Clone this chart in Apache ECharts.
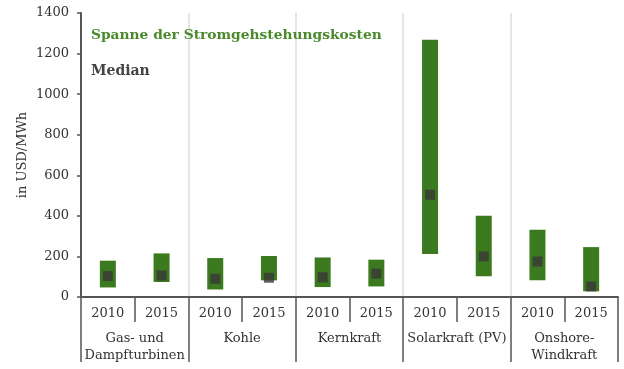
<!DOCTYPE html>
<html>
<head>
<meta charset="utf-8">
<script src="https://cdn.jsdelivr.net/npm/echarts@6/dist/echarts.min.js"></script>
<style>
  html, body { margin: 0; padding: 0; background: #fff; }
  #chart { width: 624px; height: 369px; }
</style>
</head>
<body>
<div id="chart"></div>
<script>
// Stromgestehungskosten (USD/MWh): Spanne und Median je Technologie und Jahr
const groups = ['Gas- und\nDampfturbinen', 'Kohle', 'Kernkraft', 'Solarkraft (PV)', 'Onshore-\nWindkraft'];
const years = ['2010', '2015', '2010', '2015', '2010', '2015', '2010', '2015', '2010', '2015'];
const rangeLow  = [47, 74, 37, 82, 49, 52, 212, 102, 82, 28];
const rangeHigh = [179, 215, 192, 202, 195, 184, 1268, 401, 332, 246];
const median    = [103, 106, 90, 95, 97, 115, 504, 200, 175, 52];
const yTicks = { min: 0, max: 1400, interval: 200 };

const SERIF = '"DejaVu Serif", "Liberation Serif", serif';
const GREEN = '#3c7a1f';
const DARK = '#3a3737';
const AXIS = '#555555';

const chart = echarts.init(document.getElementById('chart'));

chart.setOption({
  animation: false,
  backgroundColor: '#ffffff',
  textStyle: { fontFamily: SERIF },
  grid: { left: 81, right: 6, top: 13, bottom: 72, containLabel: false },
  legend: {
    orient: 'vertical',
    left: 81,
    top: 23,
    itemGap: 22,
    itemWidth: 0,
    itemHeight: 0,
    selectedMode: false,
    data: [
      { name: 'Spanne der Stromgehstehungskosten', textStyle: { color: '#4a8a2c', fontWeight: 'bold', fontSize: 13.8, fontFamily: SERIF } },
      { name: 'Median', textStyle: { color: '#444444', fontWeight: 'bold', fontSize: 14, fontFamily: SERIF } }
    ]
  },
  xAxis: [
    {
      type: 'category',
      data: years,
      position: 'bottom',
      boundaryGap: true,
      axisLine: { show: true, lineStyle: { color: AXIS, width: 2 } },
      axisTick: { show: true, interval: 0, length: 25, lineStyle: { color: AXIS, width: 1.5 } },
      axisLabel: { interval: 0, margin: 10, fontSize: 13, color: '#333', fontFamily: SERIF },
      splitLine: { show: false }
    },
    {
      type: 'category',
      data: groups,
      position: 'bottom',
      boundaryGap: true,
      axisLine: { show: false },
      axisTick: { show: true, interval: 0, length: 65, lineStyle: { color: AXIS, width: 1.5 } },
      axisLabel: { interval: 0, margin: 33, fontSize: 13, color: '#333', lineHeight: 17, fontFamily: SERIF },
      splitLine: { show: true, interval: 0, showMinLine: false, showMaxLine: false, lineStyle: { color: '#dddddd', width: 1.5 } }
    }
  ],
  yAxis: {
    type: 'value',
    min: yTicks.min,
    max: yTicks.max,
    interval: yTicks.interval,
    name: 'in USD/MWh',
    nameLocation: 'middle',
    nameRotate: 90,
    nameGap: 52,
    nameMoveOverlap: false,
    nameTextStyle: { fontSize: 13, color: '#333', fontFamily: SERIF },
    axisLine: { show: true, lineStyle: { color: AXIS, width: 2 } },
    axisTick: { show: true, length: 4, lineStyle: { color: AXIS, width: 1.5 } },
    axisLabel: { fontSize: 13, color: '#333', margin: 12, fontFamily: SERIF, formatter: v => String(v) },
    splitLine: { show: false }
  },
  series: [
    {
      name: 'Spanne der Stromgehstehungskosten',
      type: 'custom',
      xAxisIndex: 0,
      encode: { x: 0, y: [1, 2] },
      data: years.map((y, i) => [i, rangeLow[i], rangeHigh[i]]),
      renderItem: function (params, api) {
        const lo = api.coord([api.value(0), api.value(1)]);
        const hi = api.coord([api.value(0), api.value(2)]);
        const w = 16;
        return {
          type: 'rect',
          shape: { x: lo[0] - w / 2, y: hi[1], width: w, height: lo[1] - hi[1] },
          style: { fill: GREEN }
        };
      },
      z: 2
    },
    {
      name: 'Median',
      type: 'scatter',
      xAxisIndex: 0,
      symbol: 'rect',
      symbolSize: 10,
      itemStyle: { color: DARK },
      data: years.map((y, i) => [i, median[i]]),
      z: 3
    }
  ]
});
</script>
</body>
</html>
